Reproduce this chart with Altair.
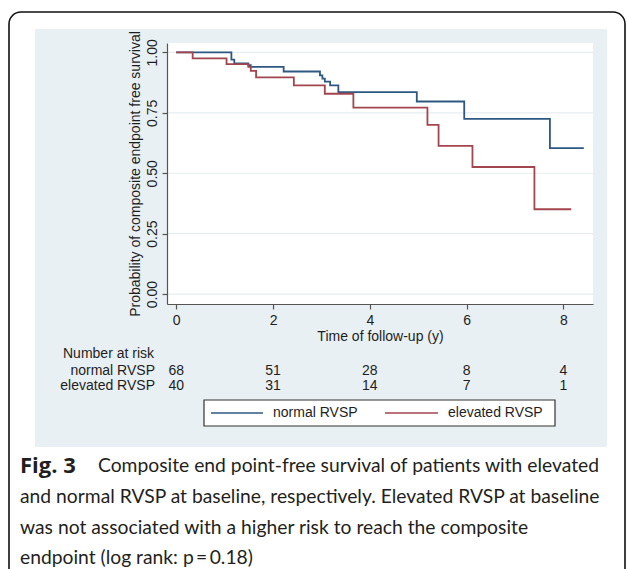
import altair as alt
import pandas as pd

# ---------------- data ----------------
normal_t = [0, 1.14, 1.20, 1.49, 1.54, 2.22, 2.97, 3.02, 3.07, 3.18, 3.35, 4.97, 5.95, 7.72, 8.42]
normal_s = [1.0, 0.970, 0.955, 0.947, 0.940, 0.921, 0.905, 0.892, 0.879, 0.864, 0.836, 0.797, 0.725, 0.604, 0.604]
elev_t = [0, 0.34, 1.04, 1.49, 1.54, 1.65, 2.43, 3.07, 3.66, 5.19, 5.42, 6.12, 7.40, 8.16]
elev_s = [1.0, 0.975, 0.952, 0.940, 0.924, 0.897, 0.864, 0.829, 0.772, 0.700, 0.613, 0.526, 0.351, 0.351]

groups = ["normal RVSP", "elevated RVSP"]
colors = ["#2c5882", "#a2454e"]

risk_times = [0, 2, 4, 6, 8]
risk_normal = [68, 51, 28, 8, 4]
risk_elev = [40, 31, 14, 7, 1]

y_ticks = [0, 0.25, 0.5, 0.75, 1.0]
x_ticks = [0, 2, 4, 6, 8]

y_title = "Probability of composite endpoint free survival"
x_title = "Time of follow-up (y)"
risk_title = "Number at risk"
caption_bold = "Fig. 3"
caption_lines = [
    "Composite end point-free survival of patients with elevated",
    "and normal RVSP at baseline, respectively. Elevated RVSP at baseline",
    "was not associated with a higher risk to reach the composite",
    "endpoint (log rank: p\u2009=\u20090.18)",
]

# ---------------- layout ----------------
CW, CH = 627, 569
L, T = 167, 43          # plot origin in the page
W, H = 426, 261         # plot area
FONT = "Liberation Sans"
CAPFONT = "Lato"
PANEL = "#e9f0f3"
GRID = "#e6edf0"
AXIS = "#555555"
TXT = "#1e1e1e"
CAPCOL = "#231f20"


def X(px):
    return alt.value(px - L)


def Y(py):
    return alt.value(py - T)


one = pd.DataFrame({"k": [0]})

xscale = alt.Scale(domain=[-0.19, 8.61], nice=False, zero=False)
yscale = alt.Scale(domain=[-0.041, 1.039], nice=False, zero=False)

rows = []
for t, s in zip(normal_t, normal_s):
    rows.append({"t": t, "s": s, "g": groups[0]})
for t, s in zip(elev_t, elev_s):
    rows.append({"t": t, "s": s, "g": groups[1]})
km = pd.DataFrame(rows)

xaxis = alt.Axis(
    values=x_ticks, title=x_title, grid=False, domainColor=AXIS, tickColor=AXIS,
    tickSize=5, labelPadding=4, labelFontSize=14, labelFont=FONT, labelColor=TXT,
    titleFontSize=14, titleFont=FONT, titleFontWeight="normal", titleColor=TXT,
    titleY=32, titleBaseline="middle", zindex=1, domainWidth=1.2, tickWidth=1.2,
    labelFlush=False,
)
yaxis = alt.Axis(
    values=y_ticks, format=".2f", title=y_title, grid=False, domainColor=AXIS,
    tickColor=AXIS, tickSize=5, labelPadding=3, labelAngle=-90, labelAlign="center",
    labelBaseline="bottom", labelFontSize=14, labelFont=FONT, labelColor=TXT,
    titleFontSize=14, titleFont=FONT, titleFontWeight="normal", titleColor=TXT,
    titleX=-32, titleBaseline="middle", zindex=1, domainWidth=1.2, tickWidth=1.2,
    labelFlush=False,
)

panel = alt.Chart(one).mark_rect(color=PANEL).encode(
    x=X(35), x2=X(607), y=Y(29), y2=Y(447)
)
plotbg = alt.Chart(one).mark_rect(color="white").encode(
    x=alt.value(0), x2=alt.value(W), y=alt.value(0), y2=alt.value(H)
)
grid = alt.Chart(pd.DataFrame({"s": y_ticks})).mark_rule(color=GRID, strokeWidth=1.2).encode(
    y=alt.Y("s:Q", scale=yscale, axis=yaxis), x=alt.value(0), x2=alt.value(W)
)

lines = alt.Chart(km).mark_line(interpolate="step-after", strokeWidth=1.8).encode(
    x=alt.X("t:Q", scale=xscale, axis=xaxis),
    y=alt.Y("s:Q", scale=yscale, axis=yaxis),
    color=alt.Color("g:N", scale=alt.Scale(domain=groups, range=colors), legend=None),
    detail="g:N",
)

risk_df = pd.DataFrame({"t": risk_times, "n": [str(v) for v in risk_normal],
                        "e": [str(v) for v in risk_elev]})
risk_n = alt.Chart(risk_df).mark_text(font=FONT, fontSize=14, color=TXT, baseline="middle").encode(
    x=alt.X("t:Q", scale=xscale, axis=xaxis), y=Y(371), text="n:N"
)
risk_e = alt.Chart(risk_df).mark_text(font=FONT, fontSize=14, color=TXT, baseline="middle").encode(
    x=alt.X("t:Q", scale=xscale, axis=xaxis), y=Y(386), text="e:N"
)


def label(txt, px, py, align="left", font=FONT, size=14, weight="normal", color=TXT):
    return alt.Chart(one).mark_text(
        text=txt, font=font, fontSize=size, fontWeight=weight, color=color,
        align=align, baseline="middle"
    ).encode(x=X(px), y=Y(py))


risk_head = label(risk_title, 63, 354)
risk_lab1 = label(groups[0], 155, 371, align="right")
risk_lab2 = label(groups[1], 155, 386, align="right")

legend_box = alt.Chart(one).mark_rect(fill="white", stroke="#333333", strokeWidth=1.2).encode(
    x=X(204), x2=X(555), y=Y(400), y2=Y(426)
)
leg_l1 = alt.Chart(one).mark_rule(color=colors[0], strokeWidth=1.5).encode(
    x=X(211), x2=X(263), y=Y(413)
)
leg_l2 = alt.Chart(one).mark_rule(color=colors[1], strokeWidth=1.5).encode(
    x=X(385), x2=X(438), y=Y(413)
)
leg_t1 = label(groups[0], 273, 413)
leg_t2 = label(groups[1], 448, 413)

frame = alt.Chart(one).mark_rect(filled=False, stroke="#111111", strokeWidth=1.6, cornerRadius=12).encode(
    x=X(9), x2=X(625), y=Y(12), y2=Y(640)
)

CAPSIZE = 19.3
cap_y = [466, 497, 528, 558]
cap0 = label(caption_bold, 20, cap_y[0], font="Open Sans", size=22, weight="bold", color=CAPCOL)
cap1 = label(caption_lines[0], 98, cap_y[0], font=CAPFONT, size=CAPSIZE, color=CAPCOL)
cap2 = label(caption_lines[1], 20, cap_y[1], font=CAPFONT, size=CAPSIZE, color=CAPCOL)
cap3 = label(caption_lines[2], 20, cap_y[2], font=CAPFONT, size=CAPSIZE, color=CAPCOL)
cap4 = label(caption_lines[3], 20, cap_y[3], font=CAPFONT, size=CAPSIZE, color=CAPCOL)

chart = alt.layer(
    panel, plotbg, grid, lines, risk_n, risk_e, risk_head, risk_lab1, risk_lab2,
    legend_box, leg_l1, leg_l2, leg_t1, leg_t2, frame, cap0, cap1, cap2, cap3, cap4,
).properties(
    width=W, height=H,
    autosize=alt.AutoSizeParams(type="none"),
    padding={"left": L, "top": T, "right": CW - L - W, "bottom": CH - T - H},
    background="white",
).configure_view(stroke=None)

chart.save("out.html", embed_options={"renderer": "svg", "actions": False})
